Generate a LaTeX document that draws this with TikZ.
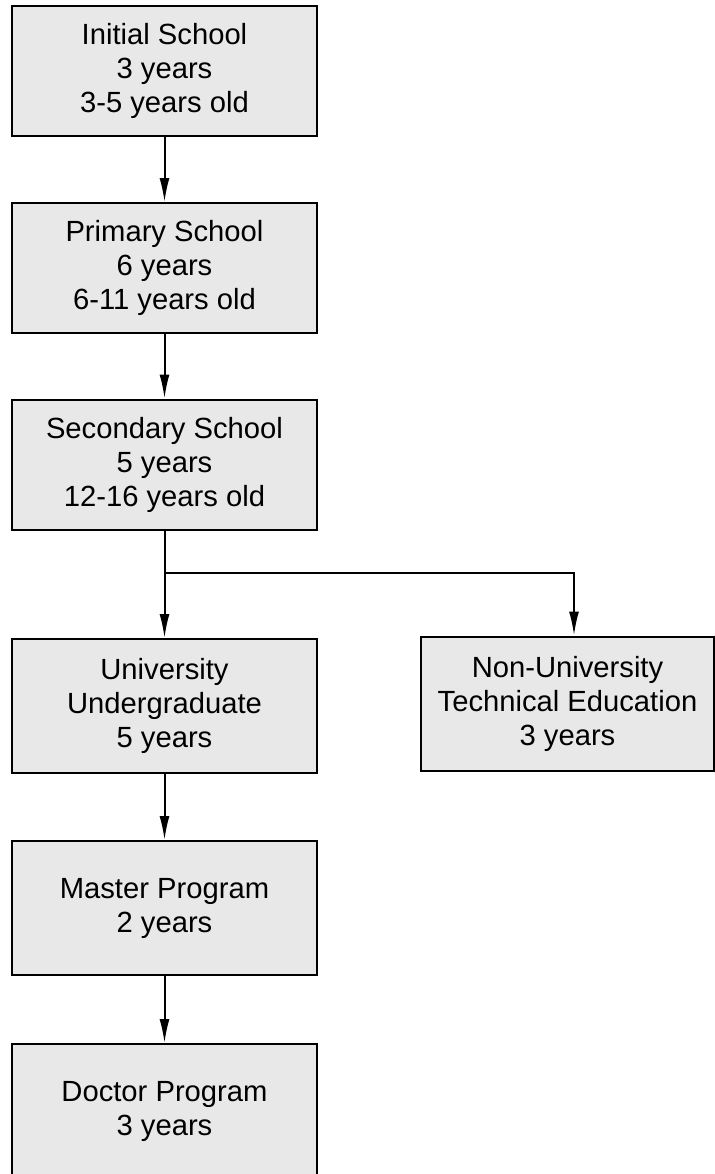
\documentclass[tikz,border=0pt]{standalone}
\usepackage{fontspec}
\setmainfont{Liberation Sans}
\usepackage{tikz}
\usetikzlibrary{arrows.meta}
\usepackage{xcolor}
\definecolor{boxgray}{HTML}{E8E8E8}
\tikzset{arrowout/.style={-{Latex[length=12pt,width=5pt]},line width=1pt},
  link/.style={line width=1pt},
  stage/.style={rectangle,draw=black,fill=boxgray,line width=1pt,align=center,minimum width=152.5pt,minimum height=65pt,inner sep=0pt},
  tallstage/.style={stage,minimum height=67pt}}

\begin{document}
\begin{tikzpicture} [x=0.5pt,y=-0.5pt,font=\fontsize{14.6pt}{17pt}\selectfont]

\useasboundingbox (0,0) rectangle (715,1174);

\node (initial) at (164.5,71)[stage]{Initial School\\3 years\\3-5 years old};
\node (primary) at (164.5,268)[stage]{Primary School\\6 years\\6-11 years old};
\node (secondary) at (164.5,464.5)[stage]{Secondary School\\5 years\\12-16 years old};

\node (university) at (164.5,706)[tallstage]{University\\Undergraduate\\5 years};
\node (nontech) at (567.5,703.5)[tallstage,minimum width=146.5pt]{Non-University\\Technical Education\\3 years};

\node (master) at (164.5,908)[tallstage]{Master Program\\2 years};
\node (doctor) at (164.5,1111)[tallstage]{Doctor Program\\3 years};

\coordinate (split) at (164.5,573);

\draw[arrowout] (initial) -- (primary);
\draw[arrowout] (primary) -- (secondary);
\draw[link] (secondary) -- (split);
\draw[arrowout] (split) -- (university);
\draw[arrowout] (split) -| ([xshift=3.25pt]nontech.north);
\draw[arrowout] (university) -- (master);
\draw[arrowout] (master) -- (doctor);
\end{tikzpicture}
\end{document}
